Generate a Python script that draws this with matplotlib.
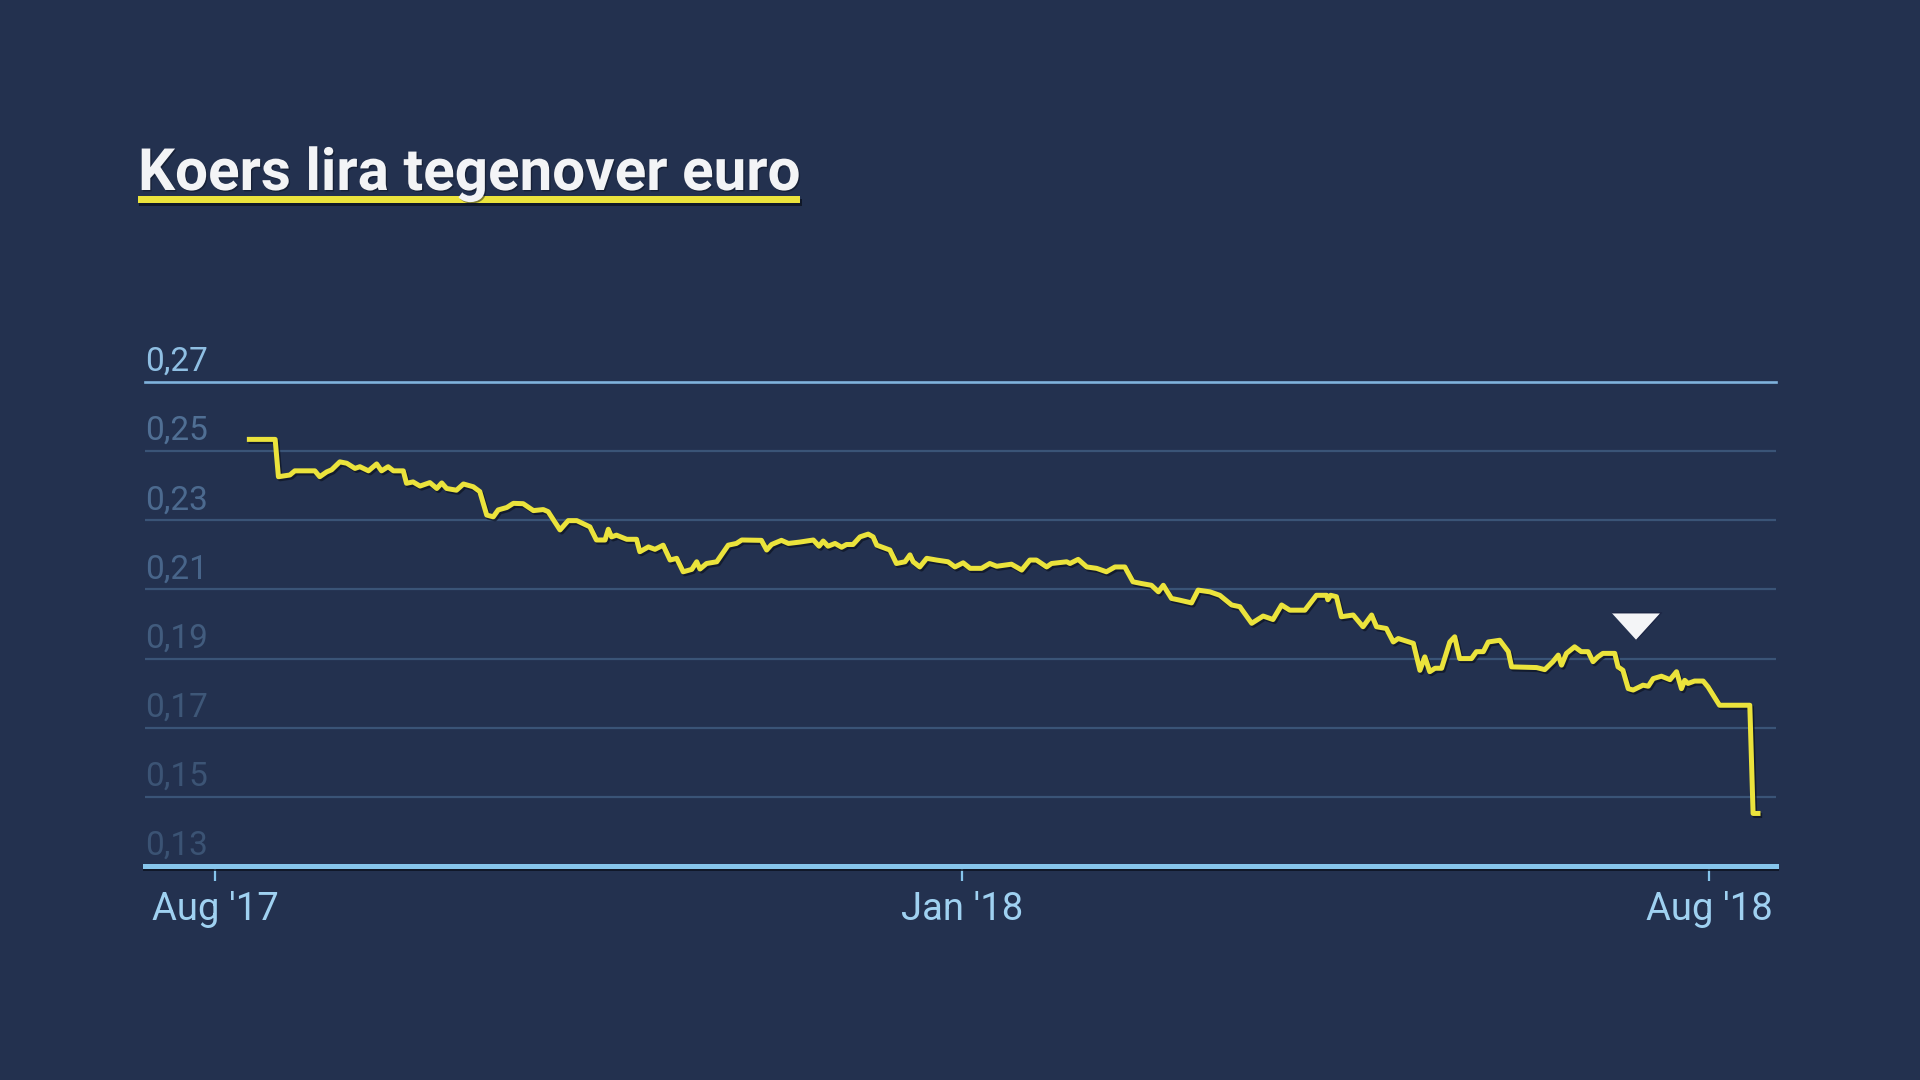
#!/usr/bin/env python3
"""Koers lira tegenover euro, Aug '17 - Aug '18."""
import matplotlib
matplotlib.use('Agg')
import matplotlib.pyplot as plt
import matplotlib.patheffects as pe
from matplotlib.patches import Rectangle
from matplotlib.transforms import blended_transform_factory

# ── Data (days after the Aug '17 tick, EUR per TRY) ─────────────────────────
DAYS = [8.4, 14.7, 15.5, 18.3, 19.5, 24.4, 25.6, 27.3, 28.5, 30.5, 32.2, 34.2,
        35.4, 37.5, 39.5, 40.7, 42.3, 43.6, 46.0, 46.8, 48.4, 50.1, 52.5, 54.2,
        55.4, 56.6, 59.0, 60.7, 63.1, 64.7, 66.4, 68.0, 69.2, 71.3, 72.9, 75.3,
        77.8, 80.2, 81.4, 84.3, 86.3, 88.4, 91.6, 93.2, 95.3, 96.1, 96.9, 98.1,
        100.6, 103.0, 103.8, 105.9, 107.5, 109.5, 111.2, 112.8, 114.4, 116.5,
        117.7, 118.5, 120.1, 122.6, 125.4, 127.4, 128.7, 133.5, 134.8, 136.0,
        138.4, 140.1, 142.9, 146.2, 147.6, 148.6, 149.8, 151.5, 153.1, 154.3,
        155.9, 157.6, 159.6, 160.8, 161.7, 164.9, 166.5, 168.6, 169.8, 170.6,
        172.2, 173.9, 176.3, 179.1, 180.8, 182.8, 184.5, 187.3, 189.3, 191.0,
        194.6, 197.1, 199.1, 200.7, 203.2, 204.4, 208.1, 208.9, 210.9, 213.0,
        215.4, 217.8, 219.9, 222.3, 224.3, 226.4, 228.8, 230.5, 231.7, 233.7,
        235.7, 238.6, 240.2, 243.1, 245.5, 248.4, 250.4, 253.3, 256.1, 258.5,
        260.6, 262.6, 266.3, 269.1, 271.6, 271.9, 272.6, 274.0, 275.2, 278.1,
        280.5, 282.6, 283.8, 286.2, 287.9, 289.1, 292.8, 294.4, 295.6, 296.8,
        298.1, 299.7, 301.7, 302.9, 304.1, 307.0, 308.2, 309.9, 311.1, 313.9,
        316.0, 316.8, 322.9, 324.9, 326.9, 328.2, 329.0, 330.2, 332.2, 333.8,
        335.5, 336.7, 337.9, 339.1, 342.0, 342.8, 344.0, 345.3, 346.5, 348.9,
        350.2, 351.4, 353.4, 355.5, 357.1, 358.3, 359.1, 359.9, 361.5, 363.6,
        364.8, 367.6, 375.0, 375.8, 377.0]
RATE = [0.2534, 0.2534, 0.2426, 0.2431, 0.2443, 0.2443, 0.2426, 0.2440, 0.2446,
        0.2469, 0.2465, 0.2450, 0.2455, 0.2443, 0.2463, 0.2443, 0.2455, 0.2443,
        0.2443, 0.2407, 0.2411, 0.2399, 0.2409, 0.2392, 0.2408, 0.2392, 0.2387,
        0.2405, 0.2397, 0.2383, 0.2315, 0.2310, 0.2330, 0.2337, 0.2349, 0.2348,
        0.2328, 0.2331, 0.2325, 0.2272, 0.2299, 0.2299, 0.2281, 0.2243, 0.2243,
        0.2274, 0.2252, 0.2257, 0.2245, 0.2245, 0.2209, 0.2223, 0.2216, 0.2228,
        0.2185, 0.2190, 0.2151, 0.2158, 0.2180, 0.2159, 0.2175, 0.2180, 0.2228,
        0.2233, 0.2243, 0.2242, 0.2214, 0.2230, 0.2242, 0.2233, 0.2237, 0.2243,
        0.2225, 0.2240, 0.2225, 0.2233, 0.2222, 0.2230, 0.2230, 0.2252, 0.2260,
        0.2252, 0.2228, 0.2214, 0.2175, 0.2180, 0.2200, 0.2180, 0.2165, 0.2190,
        0.2185, 0.2180, 0.2165, 0.2177, 0.2161, 0.2161, 0.2175, 0.2167, 0.2173,
        0.2156, 0.2185, 0.2185, 0.2165, 0.2175, 0.2180, 0.2175, 0.2187, 0.2165,
        0.2161, 0.2151, 0.2165, 0.2165, 0.2122, 0.2117, 0.2112, 0.2093, 0.2112,
        0.2074, 0.2069, 0.2061, 0.2098, 0.2093, 0.2083, 0.2055, 0.2050, 0.2002,
        0.2023, 0.2013, 0.2055, 0.2040, 0.2040, 0.2083, 0.2083, 0.2070, 0.2083,
        0.2079, 0.2021, 0.2026, 0.1992, 0.2026, 0.1992, 0.1987, 0.1948, 0.1958,
        0.1944, 0.1866, 0.1905, 0.1862, 0.1872, 0.1872, 0.1948, 0.1963, 0.1900,
        0.1900, 0.1920, 0.1920, 0.1948, 0.1953, 0.1920, 0.1876, 0.1874, 0.1868,
        0.1891, 0.1910, 0.1881, 0.1915, 0.1934, 0.1920, 0.1920, 0.1891, 0.1905,
        0.1915, 0.1915, 0.1876, 0.1866, 0.1813, 0.1809, 0.1823, 0.1820, 0.1842,
        0.1849, 0.1839, 0.1862, 0.1813, 0.1837, 0.1828, 0.1835, 0.1835, 0.1818,
        0.1765, 0.1765, 0.1452, 0.1452]

Y_TICKS = [0.13, 0.15, 0.17, 0.19, 0.21, 0.23, 0.25, 0.27]
Y_LABELS = ["0,13", "0,15", "0,17", "0,19", "0,21", "0,23", "0,25", "0,27"]
X_TICKS = [0, 182.5, 365]
X_LABELS = ["Aug '17", "Jan '18", "Aug '18"]

MARKER_DAY = 347.1
MARKER_RATE = 0.1993

TITLE = "Koers lira tegenover euro"

# ── Style ────────────────────────────────────────────────────────────────────
BG = "#23314f"
GRID = "#3a5477"
AXIS = "#86c5ec"
TOP_LINE = "#7fb2dc"
YELLOW = "#ebe33c"
SHADOW = "#0c1220"
LABEL_X = "#9fd1f1"
LABEL_Y = ["#3b5374", "#3c5475", "#3e5778", "#425c7e", "#48658a", "#4c6a8f",
           "#506f94", "#8fbfe3"]
FONT = ['Roboto', 'DejaVu Sans']

W, H = 1920, 1080

fig = plt.figure(figsize=(W / 100, H / 100), dpi=100, facecolor=BG)
ax = fig.add_axes([145 / W, 1 - 866 / H, (1776 - 145) / W, (866 - 382) / H])
ax.set_facecolor(BG)
ax.set_xlim(-17.1, 381.4)
ax.set_ylim(Y_TICKS[0], Y_TICKS[-1])

for side in ['top', 'right', 'left']:
    ax.spines[side].set_visible(False)
ax.spines['bottom'].set_color(AXIS)
ax.spines['bottom'].set_linewidth(3.6)
ax.spines['bottom'].set_zorder(5)
ax.spines['bottom'].set_path_effects([
    pe.SimpleLineShadow(offset=(0, -1.5), shadow_color=SHADOW, alpha=0.8),
    pe.Normal()])

ax.set_yticks([])
ax.set_xticks(X_TICKS, X_LABELS)
ax.tick_params(axis='x', direction='out', length=11, width=1.6, color=AXIS,
               pad=7, labelsize=27.5, labelcolor=LABEL_X)
for lbl in ax.get_xticklabels():
    lbl.set_family(FONT)

# gridlines
for v in Y_TICKS[1:-1]:
    ax.axhline(v, color=GRID, lw=1.6, zorder=1)
ax.axhline(Y_TICKS[-1], color=TOP_LINE, lw=1.9, zorder=1, clip_on=False)

# y labels sit on top of their gridline
blend = blended_transform_factory(ax.transAxes, ax.transData)
for v, txt, c in zip(Y_TICKS, Y_LABELS, LABEL_Y):
    ax.annotate(txt, xy=(0, v), xycoords=blend, xytext=(0, 8),
                textcoords='offset points', ha='left', va='baseline',
                fontsize=24, color=c, family=FONT)

# rate line
ax.plot(DAYS, RATE, color=YELLOW, lw=3.6, zorder=4, solid_joinstyle='round',
        path_effects=[pe.SimpleLineShadow(offset=(1.2, -1.5), shadow_color=SHADOW, alpha=0.7),
                      pe.Normal()])

# pointer
ax.plot([MARKER_DAY], [MARKER_RATE], linestyle='none',
        marker=[(-1, 0.55), (1, 0.55), (0, -0.55)], markersize=36,
        markerfacecolor='#f4f5f7', markeredgecolor='#1b2544', markeredgewidth=1,
        zorder=6)

# title + underline
title = fig.text(138 / W, 1 - 190 / H, TITLE, fontsize=42, fontweight='bold',
                 color='#f3f4f6', family=FONT, va='baseline',
                 path_effects=[pe.withSimplePatchShadow(offset=(1, -1), shadow_rgbFace=SHADOW, alpha=0.5)])
fig.canvas.draw()
bb = title.get_window_extent(fig.canvas.get_renderer())
underline = Rectangle((bb.x0 / W, 1 - 203 / H), bb.width / W, 7 / H,
                      transform=fig.transFigure, facecolor=YELLOW, edgecolor='none',
                      path_effects=[pe.withSimplePatchShadow(offset=(1, -2), shadow_rgbFace=SHADOW, alpha=0.8)])
fig.add_artist(underline)

fig.savefig("out.png", dpi=100, facecolor=BG)
